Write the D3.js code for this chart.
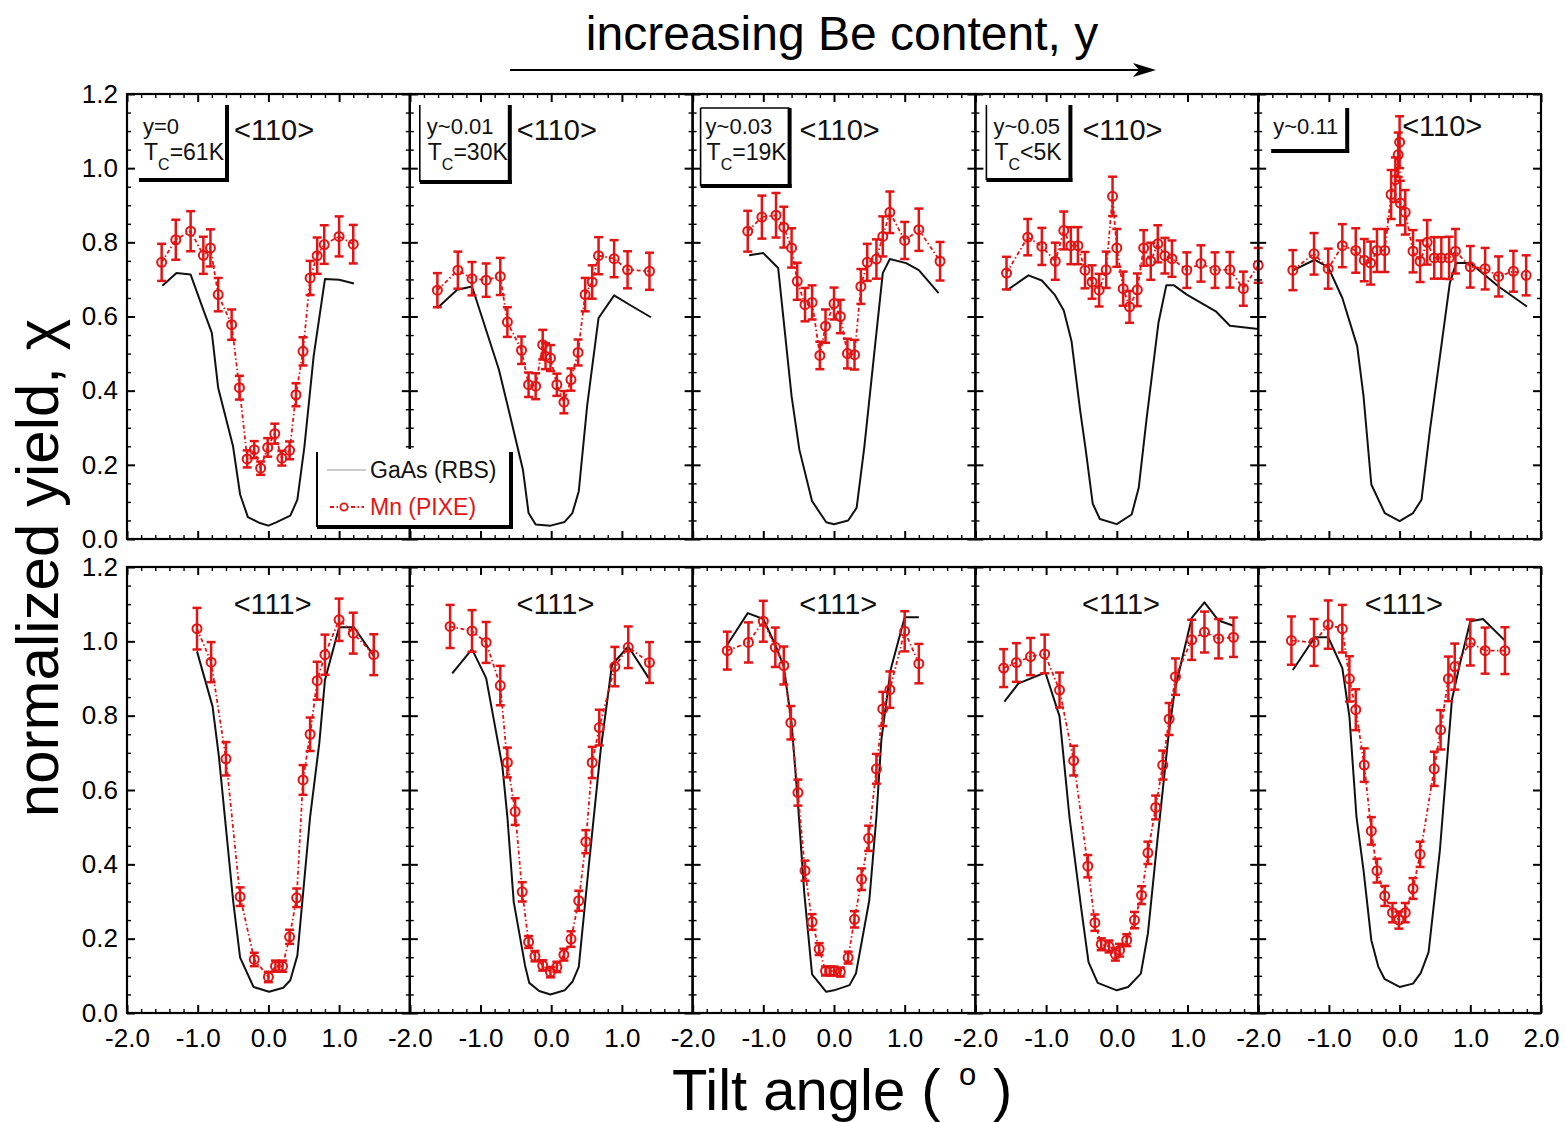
<!DOCTYPE html>
<html><head><meta charset="utf-8">
<script src="https://cdn.jsdelivr.net/npm/d3@7"></script>
<style>body{margin:0;background:#fff} svg{display:block}</style>
</head><body>
<svg id="c" width="1566" height="1122"></svg>
<script>
// ---------- data ----------
const compositions = ["y=0", "y~0.01", "y~0.03", "y~0.05", "y~0.11"];
const curieTemps = ["=61K", "=30K", "=19K", "<5K", null];
const axisTop = "<110>";
const axisBottomRow = "<111>";
const xTicks = [-2, -1, 0, 1, 2];
const xTickLabels = ["-2.0", "-1.0", "0.0", "1.0", "2.0"];
const yTicks = [0, 0.2, 0.4, 0.6, 0.8, 1.0, 1.2];
const yTickLabels = ["0.0", "0.2", "0.4", "0.6", "0.8", "1.0", "1.2"];
const seriesNames = ["GaAs (RBS)", "Mn (PIXE)"];

// GaAs (RBS) yield, <110> scans, one list per panel: [tilt, chi]
const gaas110 = [
  [[-1.50,0.683],[-1.30,0.717],[-1.10,0.713],[-0.92,0.618],[-0.80,0.556],[-0.71,0.407],[-0.50,0.250],[-0.40,0.120],[-0.29,0.059],[-0.12,0.043],[0.00,0.036],[0.11,0.045],[0.31,0.063],[0.41,0.106],[0.51,0.250],[0.64,0.493],[0.80,0.701],[1.00,0.699],[1.21,0.689]],
  [[-1.61,0.623],[-1.33,0.672],[-1.12,0.681],[-0.74,0.457],[-0.58,0.331],[-0.40,0.187],[-0.32,0.070],[-0.22,0.039],[-0.01,0.036],[0.19,0.046],[0.30,0.070],[0.39,0.129],[0.51,0.362],[0.67,0.596],[0.89,0.657],[1.15,0.627],[1.41,0.598]],
  [[-1.20,0.765],[-1.00,0.771],[-0.79,0.731],[-0.60,0.385],[-0.49,0.241],[-0.31,0.102],[-0.11,0.045],[0.00,0.040],[0.20,0.050],[0.32,0.084],[0.43,0.250],[0.58,0.520],[0.69,0.717],[0.79,0.755],[1.02,0.744],[1.20,0.725],[1.48,0.663]],
  [[-1.55,0.671],[-1.25,0.711],[-1.06,0.697],[-0.88,0.659],[-0.75,0.616],[-0.64,0.533],[-0.52,0.349],[-0.44,0.241],[-0.34,0.095],[-0.24,0.054],[0.00,0.040],[0.21,0.066],[0.31,0.138],[0.42,0.322],[0.59,0.584],[0.70,0.684],[0.81,0.684],[0.99,0.659],[1.40,0.614],[1.60,0.575],[2.00,0.566]],
  [[-1.50,0.725],[-1.20,0.753],[-1.01,0.733],[-0.81,0.650],[-0.60,0.520],[-0.51,0.385],[-0.40,0.147],[-0.21,0.070],[0.00,0.048],[0.19,0.070],[0.31,0.106],[0.43,0.295],[0.59,0.520],[0.71,0.690],[0.80,0.744],[1.00,0.744],[1.40,0.681],[1.80,0.627]]
];

// Mn (PIXE) yield, <110> scans: [tilt, chi, error]
const mn110 = [
  [[-1.51,0.746,0.050],[-1.31,0.807,0.054],[-1.10,0.830,0.054],[-0.92,0.765,0.050],[-0.82,0.785,0.050],[-0.71,0.659,0.045],[-0.52,0.578,0.041],[-0.41,0.408,0.032],[-0.30,0.216,0.023],[-0.20,0.241,0.023],[-0.11,0.191,0.018],[-0.01,0.247,0.025],[0.09,0.284,0.027],[0.19,0.218,0.020],[0.30,0.239,0.024],[0.39,0.389,0.031],[0.49,0.506,0.038],[0.59,0.704,0.046],[0.69,0.764,0.049],[0.79,0.794,0.052],[1.00,0.816,0.054],[1.20,0.795,0.052]],
  [[-1.61,0.671,0.046],[-1.32,0.725,0.050],[-1.12,0.702,0.045],[-0.92,0.698,0.045],[-0.72,0.708,0.050],[-0.62,0.585,0.040],[-0.42,0.509,0.037],[-0.32,0.416,0.033],[-0.22,0.412,0.035],[-0.12,0.524,0.040],[-0.08,0.493,0.035],[-0.01,0.488,0.035],[0.08,0.416,0.030],[0.18,0.369,0.030],[0.28,0.430,0.030],[0.38,0.503,0.035],[0.48,0.659,0.045],[0.58,0.693,0.045],[0.67,0.764,0.050],[0.89,0.756,0.050],[1.08,0.726,0.050],[1.39,0.722,0.050]],
  [[-1.22,0.830,0.055],[-1.02,0.868,0.058],[-0.82,0.873,0.060],[-0.71,0.841,0.055],[-0.60,0.785,0.053],[-0.52,0.695,0.050],[-0.41,0.632,0.045],[-0.31,0.638,0.046],[-0.20,0.495,0.037],[-0.12,0.574,0.045],[0.00,0.635,0.043],[0.09,0.600,0.045],[0.19,0.500,0.040],[0.29,0.497,0.040],[0.38,0.681,0.047],[0.47,0.746,0.050],[0.60,0.755,0.053],[0.69,0.816,0.054],[0.79,0.881,0.056],[1.00,0.805,0.050],[1.20,0.834,0.057],[1.50,0.749,0.052]],
  [[-1.56,0.717,0.044],[-1.26,0.814,0.049],[-1.06,0.789,0.050],[-0.87,0.749,0.050],[-0.75,0.832,0.051],[-0.65,0.791,0.050],[-0.55,0.791,0.050],[-0.45,0.725,0.049],[-0.35,0.693,0.045],[-0.25,0.671,0.044],[-0.15,0.726,0.049],[-0.06,0.924,0.053],[0.00,0.785,0.051],[0.09,0.675,0.046],[0.18,0.626,0.043],[0.29,0.672,0.044],[0.38,0.785,0.048],[0.48,0.749,0.050],[0.58,0.796,0.050],[0.68,0.764,0.048],[0.78,0.756,0.049],[0.99,0.725,0.048],[1.19,0.743,0.049],[1.39,0.725,0.048],[1.60,0.726,0.048],[1.79,0.675,0.046],[2.00,0.738,0.047]],
  [[-1.51,0.725,0.054],[-1.21,0.769,0.056],[-1.01,0.729,0.054],[-0.81,0.791,0.058],[-0.62,0.778,0.060],[-0.50,0.752,0.057],[-0.41,0.744,0.058],[-0.32,0.778,0.058],[-0.21,0.778,0.058],[-0.12,0.929,0.066],[-0.06,0.969,0.060],[-0.02,1.036,0.060],[0.00,1.070,0.070],[0.01,0.906,0.060],[0.08,0.881,0.060],[0.19,0.776,0.057],[0.29,0.749,0.056],[0.39,0.800,0.060],[0.49,0.758,0.056],[0.59,0.758,0.056],[0.70,0.758,0.057],[0.79,0.776,0.060],[1.00,0.734,0.056],[1.21,0.729,0.056],[1.40,0.708,0.054],[1.61,0.722,0.055],[1.79,0.711,0.054]]
];

// GaAs (RBS) yield, <111> scans
const gaas111 = [
  [[-1.01,0.973],[-0.79,0.825],[-0.70,0.690],[-0.50,0.304],[-0.40,0.149],[-0.21,0.070],[0.01,0.057],[0.21,0.068],[0.31,0.088],[0.41,0.155],[0.59,0.528],[0.72,0.726],[0.80,0.896],[1.00,1.038],[1.21,1.038],[1.49,0.961]],
  [[-1.40,0.914],[-1.12,0.979],[-0.92,0.901],[-0.69,0.663],[-0.62,0.528],[-0.53,0.299],[-0.37,0.128],[-0.31,0.081],[-0.17,0.059],[-0.01,0.050],[0.19,0.061],[0.30,0.084],[0.39,0.124],[0.53,0.393],[0.70,0.708],[0.86,0.937],[1.09,0.986],[1.38,0.901]],
  [[-1.51,0.991],[-1.22,1.076],[-1.00,1.060],[-0.82,0.986],[-0.71,0.932],[-0.60,0.780],[-0.51,0.564],[-0.42,0.322],[-0.31,0.104],[-0.11,0.057],[0.00,0.061],[0.22,0.075],[0.31,0.106],[0.50,0.304],[0.60,0.528],[0.67,0.735],[0.80,0.923],[1.00,1.065],[1.20,1.065]],
  [[-1.59,0.838],[-1.39,0.887],[-1.01,0.916],[-0.81,0.798],[-0.67,0.528],[-0.50,0.277],[-0.40,0.137],[-0.27,0.081],[0.00,0.061],[0.16,0.070],[0.34,0.106],[0.44,0.214],[0.56,0.438],[0.73,0.744],[0.82,0.869],[1.06,1.063],[1.24,1.105],[1.44,1.056],[1.65,1.042]],
  [[-1.51,0.923],[-1.20,1.011],[-1.01,1.011],[-0.81,0.928],[-0.71,0.798],[-0.61,0.528],[-0.51,0.384],[-0.40,0.196],[-0.30,0.124],[-0.21,0.091],[0.00,0.070],[0.19,0.079],[0.30,0.108],[0.41,0.164],[0.57,0.438],[0.74,0.843],[0.85,0.937],[1.00,1.054],[1.18,1.060],[1.49,1.002]]
];

// Mn (PIXE) yield, <111> scans: [tilt, chi, error]
const mn111 = [
  [[-1.01,1.034,0.056],[-0.81,0.944,0.054],[-0.60,0.684,0.045],[-0.40,0.313,0.025],[-0.20,0.144,0.018],[0.00,0.097,0.014],[0.10,0.126,0.015],[0.20,0.126,0.015],[0.30,0.205,0.019],[0.40,0.310,0.025],[0.49,0.627,0.040],[0.59,0.750,0.045],[0.69,0.894,0.051],[0.80,0.964,0.054],[1.00,1.058,0.057],[1.20,1.022,0.055],[1.49,0.964,0.055]],
  [[-1.43,1.040,0.058],[-1.12,1.028,0.056],[-0.92,0.997,0.055],[-0.72,0.881,0.053],[-0.62,0.674,0.040],[-0.51,0.542,0.036],[-0.41,0.326,0.026],[-0.32,0.191,0.016],[-0.23,0.153,0.014],[-0.12,0.128,0.014],[-0.01,0.110,0.014],[0.08,0.124,0.014],[0.18,0.157,0.016],[0.28,0.199,0.021],[0.39,0.302,0.027],[0.49,0.461,0.031],[0.58,0.674,0.042],[0.68,0.768,0.048],[0.90,0.932,0.053],[1.09,0.984,0.056],[1.39,0.943,0.055]],
  [[-1.51,0.975,0.051],[-1.21,0.997,0.054],[-1.00,1.054,0.055],[-0.83,0.984,0.053],[-0.71,0.935,0.051],[-0.61,0.781,0.045],[-0.51,0.593,0.035],[-0.41,0.383,0.027],[-0.31,0.245,0.021],[-0.21,0.172,0.016],[-0.12,0.113,0.012],[-0.05,0.113,0.012],[0.00,0.113,0.012],[0.09,0.110,0.012],[0.20,0.149,0.016],[0.29,0.252,0.022],[0.39,0.360,0.029],[0.49,0.470,0.034],[0.60,0.657,0.040],[0.69,0.818,0.046],[0.79,0.870,0.049],[1.00,1.027,0.054],[1.20,0.940,0.053]],
  [[-1.60,0.928,0.051],[-1.42,0.943,0.052],[-1.22,0.959,0.050],[-1.02,0.966,0.052],[-0.81,0.869,0.047],[-0.61,0.679,0.040],[-0.41,0.395,0.030],[-0.31,0.243,0.022],[-0.22,0.185,0.016],[-0.11,0.179,0.016],[-0.02,0.158,0.017],[0.04,0.169,0.017],[0.14,0.196,0.016],[0.25,0.250,0.022],[0.35,0.317,0.024],[0.44,0.431,0.030],[0.55,0.553,0.032],[0.65,0.667,0.039],[0.74,0.791,0.043],[0.83,0.905,0.049],[1.06,1.004,0.054],[1.24,1.025,0.055],[1.44,1.007,0.053],[1.65,1.011,0.053]],
  [[-1.53,1.002,0.065],[-1.21,0.997,0.063],[-1.01,1.045,0.065],[-0.81,1.034,0.064],[-0.71,0.899,0.061],[-0.62,0.816,0.055],[-0.50,0.667,0.045],[-0.40,0.490,0.037],[-0.32,0.383,0.032],[-0.21,0.315,0.027],[-0.10,0.270,0.026],[-0.01,0.250,0.023],[0.08,0.270,0.026],[0.19,0.335,0.028],[0.29,0.427,0.034],[0.49,0.657,0.046],[0.58,0.762,0.053],[0.69,0.899,0.060],[0.78,0.932,0.062],[1.00,0.997,0.062],[1.21,0.975,0.062],[1.49,0.975,0.063]]
];

// ---------- layout ----------
const FONT = '"Liberation Sans", Arial, Helvetica, sans-serif';
const RED = '#e31414';
const PW = 282.8, X0 = 127;
const rowsPx = [{top: 94, bottom: 539}, {top: 567, bottom: 1013}];
const svg = d3.select('#c').style('font-family', FONT);

const xMinor = d3.range(-2, 2.001, 0.2).filter(v => Math.abs(v - Math.round(v)) > 1e-6);
const yMinor = d3.range(0, 1.2001, 0.05).filter(v => Math.abs(v / 0.2 - Math.round(v / 0.2)) > 1e-6);

function strip(sel) { sel.select('.domain').remove(); sel.selectAll('line').attr('stroke', '#000'); }

rowsPx.forEach((r, ri) => {
  const y = d3.scaleLinear().domain([0, 1.2]).range([r.bottom, r.top]);
  const gaasSet = ri === 0 ? gaas110 : gaas111;
  const mnSet = ri === 0 ? mn110 : mn111;
  for (let i = 0; i < 5; i++) {
    const L = X0 + i * PW;
    const x = d3.scaleLinear().domain([-2, 2]).range([L, L + PW]);
    const g = svg.append('g');

    // minor ticks
    [[d3.axisBottom(x), `translate(0,${r.bottom})`, xMinor], [d3.axisTop(x), `translate(0,${r.top})`, xMinor],
     [d3.axisLeft(y), `translate(${L},0)`, yMinor], [d3.axisRight(y), `translate(${L + PW},0)`, yMinor]]
      .forEach(([a, tr, vals]) => {
        g.append('g').attr('transform', tr).call(a.tickValues(vals).tickSize(-4).tickFormat('')).call(strip)
          .selectAll('line').attr('stroke-width', 1.4);
      });
    // major ticks (with labels where needed)
    const xb = g.append('g').attr('transform', `translate(0,${r.bottom})`)
      .call(d3.axisBottom(x).tickValues(xTicks).tickSize(-8).tickPadding(16)
        .tickFormat(v => (ri === 1 && (v < 2 || i === 4)) ? xTickLabels[xTicks.indexOf(v)] : ''))
      .call(strip);
    xb.selectAll('line').attr('stroke-width', 2);
    xb.selectAll('text').attr('font-size', 26).attr('fill', '#000').attr('font-family', FONT);
    g.append('g').attr('transform', `translate(0,${r.top})`)
      .call(d3.axisTop(x).tickValues(xTicks).tickSize(-8).tickFormat('')).call(strip)
      .selectAll('line').attr('stroke-width', 2);
    const yl = g.append('g').attr('transform', `translate(${L},0)`)
      .call(d3.axisLeft(y).tickValues(yTicks).tickSize(-8).tickPadding(9)
        .tickFormat(v => i === 0 ? yTickLabels[yTicks.indexOf(v)] : ''))
      .call(strip);
    yl.selectAll('line').attr('stroke-width', 2);
    yl.selectAll('text').attr('font-size', 26).attr('fill', '#000').attr('font-family', FONT);
    g.append('g').attr('transform', `translate(${L + PW},0)`)
      .call(d3.axisRight(y).tickValues(yTicks).tickSize(-8).tickFormat('')).call(strip)
      .selectAll('line').attr('stroke-width', 2);

    // frame
    g.append('rect').attr('x', L).attr('y', r.top).attr('width', PW).attr('height', r.bottom - r.top)
      .attr('fill', 'none').attr('stroke', '#000').attr('stroke-width', 2.2);

    // GaAs line
    const line = d3.line().x(d => x(d[0])).y(d => y(d[1]));
    g.append('path').attr('d', line(gaasSet[i])).attr('fill', 'none')
      .attr('stroke', '#111').attr('stroke-width', 2).attr('stroke-linejoin', 'round');

    // Mn line + error bars + markers
    const mn = mnSet[i];
    g.append('path').attr('d', line(mn)).attr('fill', 'none').attr('stroke', RED)
      .attr('stroke-width', 1.8).attr('stroke-dasharray', '4,2.5,1.5,2.5');
    const eb = g.append('g').attr('stroke', RED).attr('stroke-width', 2.5);
    mn.forEach(d => {
      const cx = x(d[0]), y1 = y(d[1] - d[2]), y2 = y(d[1] + d[2]);
      eb.append('line').attr('x1', cx).attr('x2', cx).attr('y1', y1).attr('y2', y2);
      eb.append('line').attr('x1', cx - 4.5).attr('x2', cx + 4.5).attr('y1', y1).attr('y2', y1);
      eb.append('line').attr('x1', cx - 4.5).attr('x2', cx + 4.5).attr('y1', y2).attr('y2', y2);
    });
    g.append('g').selectAll('circle').data(mn).join('circle')
      .attr('cx', d => x(d[0])).attr('cy', d => y(d[1])).attr('r', 4.5)
      .attr('fill', 'none').attr('stroke', RED).attr('stroke-width', 2);

    // crystal axis label
    const at = g.append('text').attr('font-size', 29).attr('fill', '#111');
    if (ri === 0) {
      at.attr('x', i === 4 ? L + 144 : L + 107).attr('y', i === 4 ? 136 : 140).text(axisTop);
    } else {
      at.attr('x', x(0.06)).attr('y', 614).attr('text-anchor', 'middle').text(axisBottomRow);
    }
  }
});

// ---------- composition boxes (top row) ----------
const boxGeo = [
  {l: 12, r: 100, t: 105, b: 180, left: false, top: false, tx: 16},
  {l: 10, r: 100, t: 105, b: 182, left: true, top: false, tx: 17},
  {l: 8, r: 97, t: 108, b: 186, left: true, top: true, tx: 13},
  {l: 11, r: 95, t: 105, b: 180, left: true, top: false, tx: 18},
  {l: 13, r: 89, t: 108, b: 151, left: false, top: false, tx: 15}
];
compositions.forEach((c, i) => {
  const L = X0 + i * PW, b = boxGeo[i];
  const g = svg.append('g');
  if (b.left) g.append('line').attr('x1', L + b.l).attr('x2', L + b.l).attr('y1', b.t).attr('y2', b.b).attr('stroke', '#000').attr('stroke-width', 1.6);
  if (b.top) g.append('line').attr('x1', L + b.l).attr('x2', L + b.r).attr('y1', b.t).attr('y2', b.t).attr('stroke', '#000').attr('stroke-width', 1.6);
  g.append('line').attr('x1', L + b.r).attr('x2', L + b.r).attr('y1', b.t).attr('y2', b.b + 2).attr('stroke', '#000').attr('stroke-width', 4);
  g.append('line').attr('x1', L + b.l).attr('x2', L + b.r + 2).attr('y1', b.b).attr('y2', b.b).attr('stroke', '#000').attr('stroke-width', 4);
  g.append('text').attr('x', L + b.tx).attr('y', 134).attr('font-size', 22).attr('fill', '#111').text(c);
  if (curieTemps[i]) {
    const t = g.append('text').attr('x', L + b.tx + 1).attr('y', 160).attr('font-size', 23).attr('fill', '#111');
    t.append('tspan').text('T');
    t.append('tspan').attr('font-size', 16).attr('dy', 10).text('C');
    t.append('tspan').attr('dy', -10).text(curieTemps[i]);
  }
});

// ---------- legend ----------
const lg = svg.append('g');
lg.append('rect').attr('x', 317).attr('y', 449).attr('width', 194).attr('height', 78).attr('fill', '#fff');
lg.append('line').attr('x1', 317).attr('x2', 317).attr('y1', 452).attr('y2', 527).attr('stroke', '#000').attr('stroke-width', 2);
lg.append('line').attr('x1', 511).attr('x2', 511).attr('y1', 452).attr('y2', 529).attr('stroke', '#000').attr('stroke-width', 4);
lg.append('line').attr('x1', 317).attr('x2', 513).attr('y1', 527).attr('y2', 527).attr('stroke', '#000').attr('stroke-width', 4);
lg.append('line').attr('x1', 327).attr('x2', 366).attr('y1', 470).attr('y2', 470).attr('stroke', '#999').attr('stroke-width', 1);
lg.append('text').attr('x', 370).attr('y', 478).attr('font-size', 23).attr('fill', '#111').text(seriesNames[0]);
lg.append('line').attr('x1', 330).attr('x2', 364).attr('y1', 507).attr('y2', 507).attr('stroke', RED).attr('stroke-width', 1.8).attr('stroke-dasharray', '4,2.5,1.5,2.5');
lg.append('circle').attr('cx', 344).attr('cy', 507).attr('r', 3.6).attr('fill', '#fff').attr('stroke', RED).attr('stroke-width', 1.8);
lg.append('text').attr('x', 370).attr('y', 515).attr('font-size', 23).attr('fill', RED).text(seriesNames[1]);

// ---------- titles ----------
svg.append('text').attr('x', 842).attr('y', 50).attr('text-anchor', 'middle').attr('font-size', 48).attr('fill', '#000')
  .text('increasing Be content, y');
svg.append('line').attr('x1', 510).attr('x2', 1140).attr('y1', 70).attr('y2', 70).attr('stroke', '#000').attr('stroke-width', 2);
svg.append('path').attr('d', 'M1156,70 L1133,63 L1139,70 L1133,77 Z').attr('fill', '#000');

svg.append('text').attr('transform', 'translate(58,568) rotate(-90)').attr('text-anchor', 'middle')
  .attr('font-size', 60).attr('fill', '#000').text('normalized yield, χ');

svg.append('text').attr('x', 672).attr('y', 1110).attr('font-size', 58).attr('fill', '#000').text('Tilt angle (');
svg.append('text').attr('x', 959).attr('y', 1085).attr('font-size', 31).attr('fill', '#000').text('o');
svg.append('text').attr('x', 993).attr('y', 1110).attr('font-size', 58).attr('fill', '#000').text(')');
</script>
</body></html>
